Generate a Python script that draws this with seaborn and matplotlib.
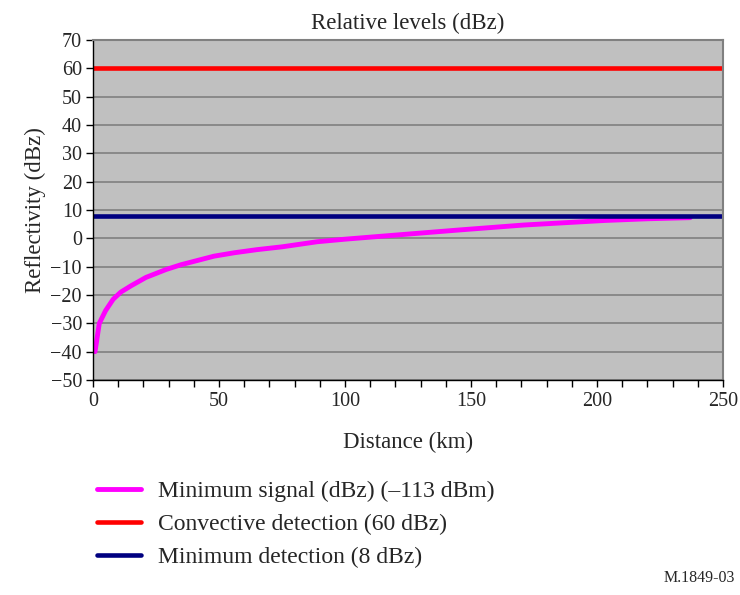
import matplotlib
matplotlib.use('Agg')
import matplotlib.pyplot as plt
from matplotlib.ticker import MultipleLocator
import pandas as pd
import seaborn as sns

# values
distance_km = [0.8, 2.5, 5, 8, 11, 15, 21, 29, 35, 48, 56, 65, 75, 89, 100,
               125, 146, 171, 203, 220, 237]
min_signal_dbz = [-40, -30, -25.5, -21.5, -19, -16.8, -13.8, -11.0, -9.3, -6.3,
                  -5.1, -4, -3, -1.2, -0.3, 1.5, 3.0, 4.7, 6.3, 6.9, 7.3]
convective_dbz = 60
min_detection_dbz = 8
labels = ['Minimum signal (dBz) (\u2013113 dBm)',
          'Convective detection (60 dBz)',
          'Minimum detection (8 dBz)']

sns.set_theme(style='white')
plt.rcParams['font.family'] = ['Liberation Serif', 'DejaVu Serif']

df = pd.DataFrame({'Distance': distance_km, 'Signal': min_signal_dbz})

fig = plt.figure(figsize=(7.4, 5.95), dpi=100)
ax = fig.add_axes([93 / 740, 1 - 380 / 595, 630 / 740, 340 / 595])
ax.set_facecolor('#C0C0C0')

sns.lineplot(data=df, x='Distance', y='Signal', ax=ax, color='#FF00FF', lw=3.5,
             label=labels[0], legend=False)
ax.axhline(convective_dbz, color='#FF0000', lw=3.3, label=labels[1])
ax.axhline(min_detection_dbz, color='#000080', lw=3.3, label=labels[2])

ax.set_xlim(0, 250)
ax.set_ylim(-50, 70)
ax.xaxis.set_major_locator(MultipleLocator(50))
ax.xaxis.set_minor_locator(MultipleLocator(10))
ax.yaxis.set_major_locator(MultipleLocator(10))
ax.grid(True, axis='y', color='#808080', lw=1.2)
ax.set_axisbelow(True)
ax.tick_params(axis='both', which='both', direction='out', length=5, width=1,
               color='black', labelsize=14.5, left=True, bottom=True)
ax.tick_params(axis='x', pad=4)
ax.tick_params(axis='y', pad=3)
for s in ['top', 'right']:
    ax.spines[s].set_color('#808080')
    ax.spines[s].set_linewidth(1.5)
for s in ['left', 'bottom']:
    ax.spines[s].set_color('black')
    ax.spines[s].set_linewidth(1)

ax.set_title('Relative levels (dBz)', fontsize=16.5, pad=8)
ax.set_xlabel('Distance (km)', fontsize=16.5, labelpad=15)
ax.set_ylabel('Reflectivity (dBz)', fontsize=16.5, labelpad=3)

handles, labs = ax.get_legend_handles_labels()
fig.legend(handles, labs, loc='upper left', bbox_to_anchor=(76 / 740, 1 - 459 / 595),
           frameon=False, fontsize=17, handlelength=1.85, handletextpad=0.72,
           labelspacing=0.5)

fig.text(735 / 740, 1 - 578 / 595, 'M.1849-03', ha='right', va='center', fontsize=11.5)

fig.savefig('out.png', dpi=100)
